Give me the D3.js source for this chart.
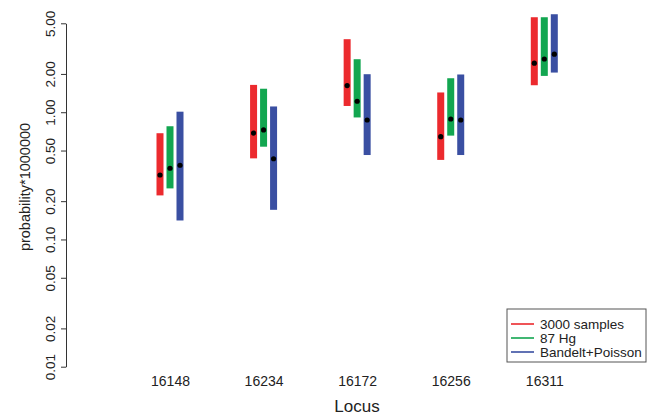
<!DOCTYPE html>
<html>
<head>
<meta charset="utf-8">
<script src="https://cdn.jsdelivr.net/npm/d3@7"></script>
<style>
  html, body { margin: 0; padding: 0; background: #fff; }
  svg { display: block; font-family: "Liberation Sans", Arial, sans-serif; }
</style>
</head>
<body>
<svg id="chart" width="651" height="418"></svg>
<script>
// Loci on the x axis
const loci = ["16148", "16234", "16172", "16256", "16311"];
// Estimation methods
const series = ["3000 samples", "87 Hg", "Bandelt+Poisson"];

// Interval bounds and point estimates (probability * 1e6)
const lower3000 = [0.222, 0.434, 1.12, 0.422, 1.63];
const upper3000 = [0.684, 1.64, 3.75, 1.43, 5.58];
const point3000 = [0.321, 0.686, 1.62, 0.643, 2.43];

const lower87 = [0.252, 0.536, 0.91, 0.655, 1.93];
const upper87 = [0.776, 1.53, 2.61, 1.85, 5.58];
const point87 = [0.363, 0.726, 1.22, 0.885, 2.62];

const lowerBP = [0.141, 0.171, 0.461, 0.461, 2.05];
const upperBP = [1.01, 1.11, 1.99, 1.98, 5.89];
const pointBP = [0.383, 0.431, 0.869, 0.869, 2.86];

const yTicks = [0.01, 0.02, 0.05, 0.10, 0.20, 0.50, 1.00, 2.00, 5.00];

const colors = ["#ec2a2e", "#12a650", "#3a4fa2"];

const table = series.map((name, s) => {
  const lo = [lower3000, lower87, lowerBP][s];
  const hi = [upper3000, upper87, upperBP][s];
  const pt = [point3000, point87, pointBP][s];
  return loci.map((locus, i) => ({ name, s, locus, lo: lo[i], hi: hi[i], pt: pt[i] }));
}).flat();

const svg = d3.select("#chart");

const axisX = 66;
const y = d3.scaleLog().domain([0.01, 5]).range([366.7, 23.3]);
const x = d3.scalePoint().domain(loci).range([170, 544.3]);
const offset = d3.scalePoint().domain(series).range([-10, 10]);
const barW = 7;

// Y axis
const yAxis = d3.axisLeft(y)
  .tickValues(yTicks)
  .tickFormat(d3.format(".2f"))
  .tickSize(5)
  .tickSizeOuter(0);

const gy = svg.append("g")
  .attr("transform", `translate(${axisX},0)`)
  .call(yAxis);
gy.select(".domain").attr("stroke", "#333").attr("stroke-width", 1);
gy.selectAll(".tick line").attr("stroke", "#333");
gy.selectAll(".tick text")
  .attr("transform", "rotate(-90)")
  .attr("x", 0)
  .attr("y", -11)
  .attr("dy", null)
  .attr("text-anchor", "middle")
  .attr("fill", "#222")
  .style("font-size", "13.5px")
  .style("font-family", "Liberation Sans, Arial, sans-serif");

// Y title
svg.append("text")
  .attr("transform", "translate(30,187) rotate(-90)")
  .attr("text-anchor", "middle")
  .attr("fill", "#222")
  .style("font-size", "14.5px")
  .text("probability*1000000");

// X tick labels (no axis line)
const xAxis = d3.axisBottom(x).tickSize(0).tickSizeOuter(0);
const gx = svg.append("g")
  .attr("transform", "translate(0,373)")
  .call(xAxis);
gx.select(".domain").remove();
gx.selectAll(".tick text")
  .attr("fill", "#222")
  .style("font-size", "14px")
  .style("font-family", "Liberation Sans, Arial, sans-serif");

// X title
svg.append("text")
  .attr("x", 357)
  .attr("y", 412)
  .attr("text-anchor", "middle")
  .attr("fill", "#222")
  .style("font-size", "17px")
  .text("Locus");

// Interval bars
svg.append("g").selectAll("rect")
  .data(table)
  .join("rect")
  .attr("x", d => x(d.locus) + offset(d.name) - barW / 2)
  .attr("y", d => y(d.hi))
  .attr("width", barW)
  .attr("height", d => y(d.lo) - y(d.hi))
  .attr("fill", d => colors[d.s]);

// Point estimates
svg.append("g").selectAll("circle")
  .data(table)
  .join("circle")
  .attr("cx", d => x(d.locus) + offset(d.name))
  .attr("cy", d => y(d.pt))
  .attr("r", 2.6)
  .attr("fill", "#000");

// Legend
const lg = svg.append("g").attr("transform", "translate(507,309)");
lg.append("rect")
  .attr("width", 139)
  .attr("height", 53)
  .attr("fill", "#fff")
  .attr("stroke", "#555")
  .attr("stroke-width", 1);
series.forEach((name, s) => {
  const yy = 15 + s * 14;
  lg.append("line")
    .attr("x1", 4).attr("x2", 27)
    .attr("y1", yy).attr("y2", yy)
    .attr("stroke", colors[s])
    .attr("stroke-width", 1.6);
  lg.append("text")
    .attr("x", 33)
    .attr("y", yy + 4.5)
    .attr("fill", "#222")
    .style("font-size", "13.5px")
    .text(name);
});
</script>
</body>
</html>
